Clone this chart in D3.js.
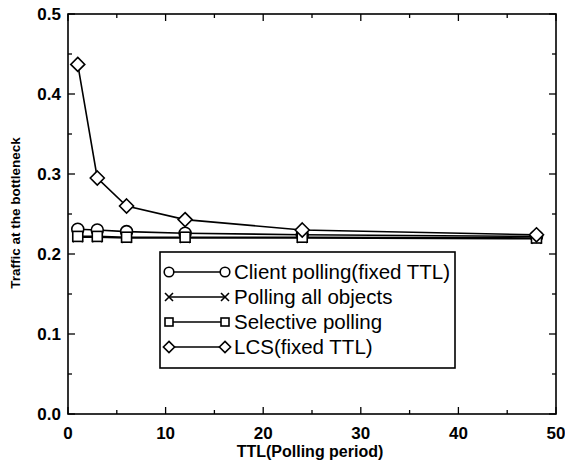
<!DOCTYPE html>
<html>
<head>
<meta charset="utf-8">
<script src="https://cdn.jsdelivr.net/npm/d3@7"></script>
<style>
  body { margin: 0; background: #fff; }
  text { font-family: "Liberation Sans", Arial, sans-serif; fill: #000; }
</style>
</head>
<body>
<svg width="565" height="466"></svg>
<script>
// polling period (TTL) on x
const ttl = [1, 3, 6, 12, 24, 48];

const clientPolling = [0.231, 0.230, 0.228, 0.226, 0.224, 0.222];
const pollingAll = [0.221, 0.221, 0.220, 0.220, 0.220, 0.219];
const selectivePolling = [0.222, 0.222, 0.221, 0.221, 0.221, 0.220];
const lcs = [0.437, 0.295, 0.260, 0.243, 0.230, 0.224];

const seriesNames = ["Client polling(fixed TTL)", "Polling all objects", "Selective polling", "LCS(fixed TTL)"];
const seriesValues = [clientPolling, pollingAll, selectivePolling, lcs];
const seriesSymbols = ["circle", "cross", "square", "diamond"];

const xTicks = [0, 10, 20, 30, 40, 50];
const yTicks = [0.0, 0.1, 0.2, 0.3, 0.4, 0.5];

const svg = d3.select("svg");
const margin = { top: 14, right: 9, bottom: 52, left: 68 };
const width = 565 - margin.left - margin.right;
const height = 466 - margin.top - margin.bottom;

const x = d3.scaleLinear().domain([0, 50]).range([0, width]);
const y = d3.scaleLinear().domain([0, 0.5]).range([height, 0]);

const g = svg.append("g")
    .attr("transform", "translate(" + margin.left + "," + margin.top + ")");

// inward ticks on all four sides, major + minor
const minorX = d3.range(5, 50, 10);
const minorY = d3.range(0.05, 0.5, 0.1);

function ticks(axis, vals, len) {
    const s = g.append("g").attr("stroke", "#000").attr("stroke-width", 1.3);
    vals.forEach(v => {
        if (axis === "x") {
            s.append("line").attr("x1", x(v)).attr("x2", x(v)).attr("y1", height).attr("y2", height - len);
            s.append("line").attr("x1", x(v)).attr("x2", x(v)).attr("y1", 0).attr("y2", len);
        } else {
            s.append("line").attr("y1", y(v)).attr("y2", y(v)).attr("x1", 0).attr("x2", len);
            s.append("line").attr("y1", y(v)).attr("y2", y(v)).attr("x1", width).attr("x2", width - len);
        }
    });
}
ticks("x", xTicks, 7);
ticks("x", minorX, 4);
ticks("y", yTicks, 7);
ticks("y", minorY, 4);

g.append("rect")
    .attr("width", width).attr("height", height)
    .attr("fill", "none").attr("stroke", "#000").attr("stroke-width", 1.6);

g.selectAll(".xl").data(xTicks).enter().append("text")
    .attr("x", d => x(d)).attr("y", height + 25)
    .attr("text-anchor", "middle")
    .attr("font-size", 17).attr("font-weight", "bold")
    .text(d => d);

g.selectAll(".yl").data(yTicks).enter().append("text")
    .attr("x", -7).attr("y", d => y(d) + 6)
    .attr("text-anchor", "end")
    .attr("font-size", 17).attr("font-weight", "bold")
    .text(d => d3.format(".1f")(d));

svg.append("text")
    .attr("x", margin.left + width / 2 - 2).attr("y", 457)
    .attr("text-anchor", "middle")
    .attr("font-size", 16).attr("font-weight", "bold")
    .text("TTL(Polling period)");

svg.append("text")
    .attr("transform", "translate(20,213) rotate(-90)")
    .attr("text-anchor", "middle")
    .attr("font-size", 13.5).attr("font-weight", "bold")
    .text("Traffic at the bottleneck");

function marker(sel, type, k) {
    const m = sel.attr("fill", "#fff").attr("stroke", "#000").attr("stroke-width", 1.6);
    if (type === "circle") {
        m.append("circle").attr("r", 6 * k);
    } else if (type === "square") {
        m.append("rect").attr("x", -5 * k).attr("y", -5 * k).attr("width", 10 * k).attr("height", 10 * k);
    } else if (type === "diamond") {
        m.append("path").attr("d", d3.line()([[0, -7 * k], [7 * k, 0], [0, 7 * k], [-7 * k, 0]]) + "Z");
    } else {
        m.append("path").attr("d", d3.line()([[-5 * k, -5 * k], [5 * k, 5 * k]]) + d3.line()([[-5 * k, 5 * k], [5 * k, -5 * k]]));
    }
}

const line = d3.line().x(d => x(d[0])).y(d => y(d[1]));

seriesValues.forEach((vals, i) => {
    const pts = ttl.map((t, j) => [t, vals[j]]);
    g.append("path").datum(pts)
        .attr("d", line)
        .attr("fill", "none").attr("stroke", "#000").attr("stroke-width", 1.6);
    pts.forEach(p => {
        marker(g.append("g").attr("transform", "translate(" + x(p[0]) + "," + y(p[1]) + ")"), seriesSymbols[i], 1);
    });
});

// legend box
const lg = svg.append("g").attr("transform", "translate(160,252)");
lg.append("rect").attr("width", 295).attr("height", 116)
    .attr("fill", "#fff").attr("stroke", "#000").attr("stroke-width", 1.6);
seriesNames.forEach((name, i) => {
    const ry = 20 + i * 25;
    lg.append("line").attr("x1", 9).attr("x2", 65).attr("y1", ry).attr("y2", ry)
        .attr("stroke", "#000").attr("stroke-width", 1.6);
    marker(lg.append("g").attr("transform", "translate(9," + ry + ")"), seriesSymbols[i], 0.8);
    marker(lg.append("g").attr("transform", "translate(65," + ry + ")"), seriesSymbols[i], 0.8);
    lg.append("text").attr("x", 74).attr("y", ry + 7)
        .attr("font-size", 20.5)
        .text(name);
});
</script>
</body>
</html>
